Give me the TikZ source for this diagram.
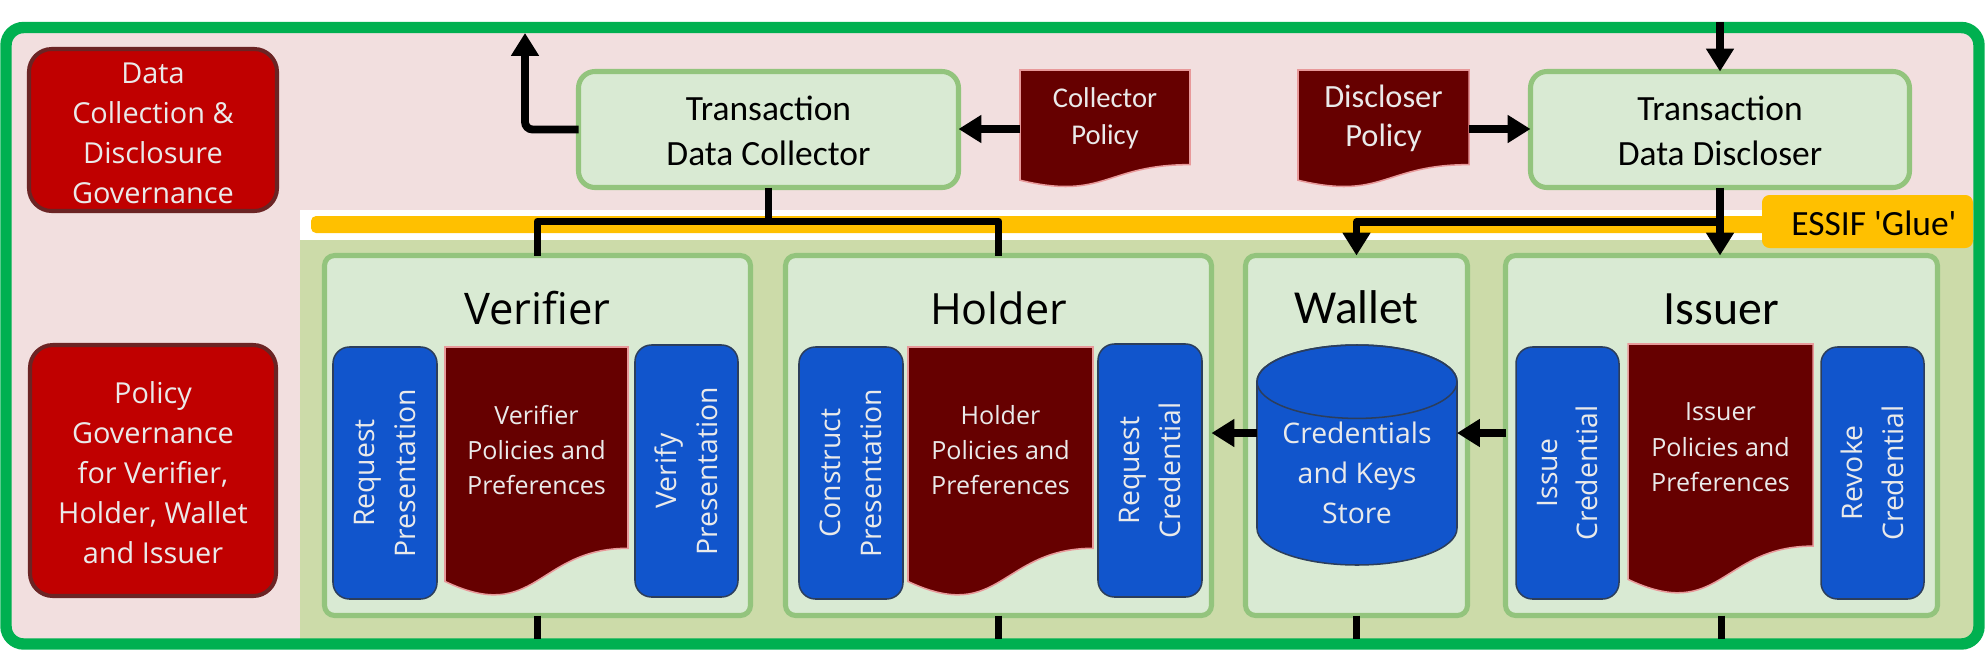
\documentclass[tikz,border=0pt]{standalone}
\usepackage{fontspec}
\newfontfamily\carl{Carlito}
\newfontfamily\carlnl{Carlito}[Ligatures=TeXOff]
\newfontfamily\osans{Open Sans}
\usetikzlibrary{arrows.meta,fit,calc}
\newcommand{\myfs}[2]{\fontsize{#1}{#2}\selectfont}
\definecolor{frameg}{HTML}{00B050}
\definecolor{pinkbg}{HTML}{F2DFDF}
\definecolor{olivebg}{HTML}{CCDBA9}
\definecolor{boxfill}{HTML}{D9EAD3}
\definecolor{boxline}{HTML}{93C47D}
\definecolor{glue}{HTML}{FFC000}
\definecolor{govred}{HTML}{C00000}
\definecolor{govline}{HTML}{6B2424}
\definecolor{docred}{HTML}{660000}
\definecolor{docline}{HTML}{E8999A}
\definecolor{funcblue}{HTML}{1155CC}
\definecolor{funcline}{HTML}{2C3E5C}
\definecolor{lighttxt}{HTML}{EAEAEA}
\tikzset{
 fitbox/.style={inner sep=0pt, outer sep=0pt},
 govbox/.style={fitbox, fill=govred, draw=govline, line width=1.6pt, rounded corners=9pt},
 govtext/.style={inner sep=0pt, text=lighttxt, align=center, font=\osans\myfs{11.4pt}{15.8pt}},
 topbox/.style={fitbox, fill=boxfill, draw=boxline, line width=2pt, rounded corners=6.5pt},
 toptext/.style={inner sep=0pt, align=center, font=\carl\myfs{14pt}{17.8pt}},
 rolebox/.style={fitbox, fill=boxfill, draw=boxline, line width=2pt, rounded corners=4pt},
 funcbox/.style={fitbox, fill=funcblue, draw=funcline, line width=0.6pt, rounded corners=6.5pt},
 functext/.style={rotate=90, align=center, text=lighttxt, font=\osans\myfs{11.2pt}{16pt}, inner sep=0pt},
 docfill/.style={fill=docred, draw=docline, line width=0.6pt},
 doctext/.style={align=center, text=lighttxt, inner sep=0pt},
 roletitle/.style={anchor=base, inner sep=0pt},
 conn/.style={line width=3.1pt, draw=black},
 arr/.style={conn, -{Triangle[length=9pt,width=10.5pt]}},
}
\newcommand{\docshape}[7]{%
 \node[fitbox, fit={(#2,#3) (#4,#5)}] (#1) {};
 \path[docfill] (#2,#3) -- (#4,#3) -- (#4,{#3+0.802*(#5-#3)}) .. controls ({(#2+#4)/2},{#3+0.802*(#5-#3)}) and ({(#2+#4)/2},{#3+1.1075*(#5-#3)}) .. (#2,{#3+0.934*(#5-#3)}) -- cycle;
 \node[doctext, font={#6}] (#1-t) at ({(#2+#4)/2},{#3+0.41*(#5-#3)}) {#7};
}
\begin{document}
\begin{tikzpicture}[x=0.3948pt, y=-0.3948pt]
\useasboundingbox (0,0) rectangle (1986,651);
% backgrounds
\fill[pinkbg, rounded corners=7pt] (6,27.5) rectangle (1979,644);
\fill[white] (300,210) rectangle (1976,240);
\fill[olivebg] (300,240) rectangle (1976,641);
\fill[glue, rounded corners=2pt] (311,216) rectangle (1780,233);
\node[fitbox, fill=glue, rounded corners=3pt, fit={(1762,195) (1973,248)}] (glue) {};
\node[inner sep=0pt, font=\carlnl\myfs{14pt}{17pt}] (gluet) at (1874,223) {ESSIF 'Glue'};
% frame
\draw[frameg, line width=4.5pt, rounded corners=7pt] (6,27.5) rectangle (1979,644);
% governance boxes
\node[govbox, fit={(29,49) (277,211)}] (g1) {};
\node[govtext] (g1t) at (153,133) {Data\\Collection \&\\Disclosure\\Governance};
\node[govbox, fit={(30,345) (276,596)}] (g2) {};
\node[govtext] (g2t) at (153,473) {Policy\\Governance\\for Verifier,\\Holder, Wallet\\and Issuer};
% top boxes
\node[topbox, fit={(578.5,71.5) (958.5,187.5)}] (coll) {};
\node[toptext] (collt) at (768.5,131) {Transaction\\Data Collector};
\node[topbox, fit={(1530.5,71.5) (1909.5,187.5)}] (disc) {};
\node[toptext] (disct) at (1720,131) {Transaction\\Data Discloser};
\docshape{cpol}{1020}{70}{1190}{188}{\carl\myfs{11.3pt}{14.6pt}}{Collector\\Policy}
\docshape{dpol}{1298}{70}{1469}{188}{\carl\myfs{12.8pt}{15.5pt}}{Discloser\\Policy}
% role boxes
\node[rolebox, fit={(324.5,255.5) (750.5,615.5)}] (ver) {};
\node[rolebox, fit={(785.5,255.5) (1211.5,615.5)}] (hol) {};
\node[rolebox, fit={(1245.5,255.5) (1467.5,615.5)}] (wal) {};
\node[rolebox, fit={(1505.5,255.5) (1937.5,615.5)}] (iss) {};
\node[roletitle, font=\osans\myfs{17.2pt}{20pt}] (vert) at (537.5,324) {Verifier};
\node[roletitle, font=\osans\myfs{17pt}{20pt}] (holt) at (998.5,324) {Holder};
\node[roletitle, font=\carl\myfs{18.7pt}{22pt}] (walt) at (1356.5,323) {Wallet};
\node[roletitle, font=\carl\myfs{18.9pt}{22pt}] (isst) at (1721.5,324) {Issuer};
% verifier content
\node[funcbox, fit={(333,347) (437,599)}] (vrp) {};
\node[functext] (vrpt) at (vrp.center) {Request\\Presentation};
\docshape{vdoc}{445}{347}{628}{598}{\osans\myfs{9.9pt}{13.9pt}}{Verifier\\Policies and\\Preferences}
\node[funcbox, fit={(635,345) (738,597)}] (vvp) {};
\node[functext] (vvpt) at (vvp.center) {Verify\\Presentation};
% holder content
\node[funcbox, fit={(799,347) (903,599)}] (hcp) {};
\node[functext] (hcpt) at (hcp.center) {Construct\\Presentation};
\docshape{hdoc}{908}{347}{1093}{598}{\osans\myfs{9.9pt}{13.9pt}}{Holder\\Policies and\\Preferences}
\node[funcbox, fit={(1098,344) (1202,597)}] (hrc) {};
\node[functext] (hrct) at (hrc.center) {Request\\Credential};
% wallet content
\node[fitbox, fit={(1257,345) (1457,565)}] (cyl) {};
\path[fill=funcblue, draw=funcline, line width=0.6pt] (1257,381.7) -- (1257,528.3) arc[start angle=180, end angle=360, x radius=39.48pt, y radius=14.49pt] -- (1457,381.7) arc[start angle=0, end angle=180, x radius=39.48pt, y radius=14.49pt] -- cycle;
\draw[funcline, line width=0.6pt] (1357,381.7) ellipse [x radius=39.48pt, y radius=14.49pt];
\node[doctext, font=\osans\myfs{11.2pt}{15.8pt}] (cylt) at (1357,473) {Credentials\\and Keys\\Store};
% issuer content
\node[funcbox, fit={(1516,347) (1619,599)}] (iic) {};
\node[functext] (iict) at (iic.center) {Issue\\Credential};
\docshape{idoc}{1628}{344}{1813}{596}{\osans\myfs{9.9pt}{13.9pt}}{Issuer\\Policies and\\Preferences}
\node[funcbox, fit={(1821,347) (1924,599)}] (irc) {};
\node[functext] (irct) at (irc.center) {Revoke\\Credential};
% connectors
\coordinate (upend) at (525,33);
\draw[arr, rounded corners=3pt] (coll.west) -| (upend);
\draw[arr] (cpol.west) -- (cpol.west -| coll.east);
\draw[arr] (dpol.east) -- (dpol.east -| disc.west);
\coordinate (topin) at (1720,22);
\draw[arr] (topin) -- (topin |- disc.north);
\coordinate (busc) at (768.5,221.5);
\draw[conn] (coll.south) -- (busc);
\draw[conn, line join=round] (ver.north) |- (hol.north |- busc) -- (hol.north);
\coordinate (busd) at (1720,222);
\draw[arr] (disc.south) -- (disc.south |- iss.north);
\draw[arr, line join=round] (busd) -| (wal.north);
\coordinate (bot) at (0,639);
\foreach \n in {ver,hol,wal,iss} \draw[conn] (\n.south) -- (\n.south |- bot);
\coordinate (wy) at (1357,433);
\draw[arr] (iss.west |- wy) -- (cyl.east |- wy);
\draw[arr] (cyl.west |- wy) -- (hol.east |- wy);
\end{tikzpicture}
\end{document}
